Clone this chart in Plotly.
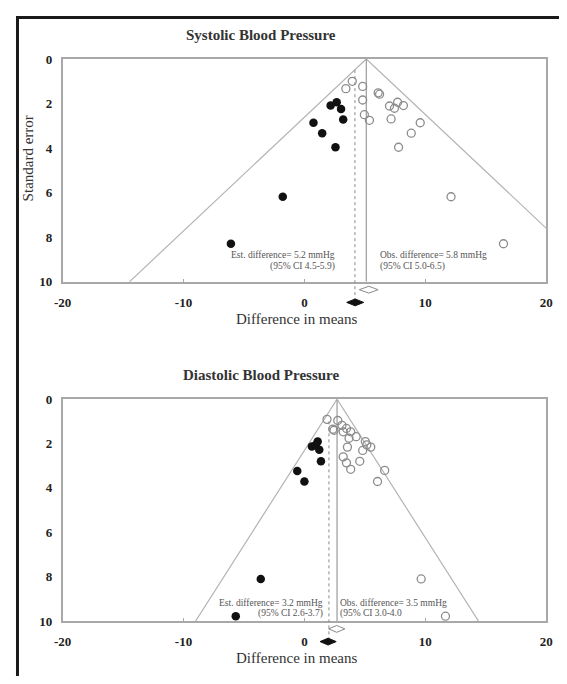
import plotly.graph_objects as go

# page body has an 8px margin; the figure is sized to fit inside the window
PAGE_W, PAGE_H = 567, 684
OFF = 8
W, H = PAGE_W - 2 * OFF, PAGE_H - 2 * OFF

# ---------------- data ----------------
x_ticks = [-20, -10, 0, 10, 20]
y_ticks = [0, 2, 4, 6, 8, 10]

# Systolic: observed studies (open) and imputed studies (filled)
sbp_obs_x = [3.96, 3.43, 4.82, 4.82, 6.10, 6.22, 7.04, 7.45, 7.71, 8.19, 7.17, 4.96, 5.38, 9.58, 8.84, 7.79, 12.13, 16.47]
sbp_obs_se = [1.00, 1.33, 1.23, 1.84, 1.52, 1.58, 2.11, 2.21, 1.94, 2.09, 2.69, 2.50, 2.75, 2.86, 3.33, 3.96, 6.18, 8.29]
sbp_imp_x = [2.67, 2.17, 3.03, 3.21, 0.75, 1.47, 2.57, -1.79, -6.08]
sbp_imp_se = [1.94, 2.09, 2.24, 2.72, 2.86, 3.33, 3.96, 6.18, 8.29]
sbp_obs_mean = 5.12
sbp_adj_mean = 4.18
sbp_funnel_k = 1.96
sbp_obs_ci = [4.55, 6.1]
sbp_adj_ci = [3.5, 4.9]

# Diastolic
dbp_obs_x = [1.87, 2.76, 2.35, 2.45, 3.11, 3.48, 3.83, 3.21, 4.28, 3.69, 5.04, 5.16, 5.49, 4.82, 3.56, 3.21, 3.48, 3.83, 4.58, 6.64, 6.05, 9.66, 11.67]
dbp_obs_se = [0.91, 0.96, 1.35, 1.40, 1.18, 1.32, 1.47, 1.47, 1.69, 1.76, 1.91, 2.06, 2.16, 2.31, 2.16, 2.60, 2.87, 3.16, 2.80, 3.21, 3.71, 8.10, 9.78]
dbp_imp_x = [1.10, 0.62, 0.94, 1.23, 1.37, -0.59, 0.00, -3.61, -5.68]
dbp_imp_se = [1.91, 2.13, 2.06, 2.28, 2.80, 3.24, 3.71, 8.10, 9.78]
dbp_obs_mean = 2.70
dbp_adj_mean = 2.03
dbp_funnel_k = 1.17
dbp_obs_ci = [2.0, 3.35]
dbp_adj_ci = [1.29, 2.63]

titles = ["Systolic Blood Pressure", "Diastolic Blood Pressure"]
est_text = [["Est. difference= 5.2 mmHg", "(95% CI 4.5-5.9)"],
            ["Est. difference= 3.2 mmHg", "(95% CI 2.6-3.7)"]]
obs_text = [["Obs. difference= 5.8 mmHg", "(95% CI 5.0-6.5)"],
            ["Obs. difference= 3.5 mmHg", "(95% CI 3.0-4.0"]]

# ---------------- layout helpers (args are page pixels) ----------------
def fx(p):
    return (p - OFF) / W

def fy(p):
    return 1 - (p - OFF) / H

SERIF = "Liberation Serif"
GRAY = "#a8a8a8"

panels = [
    dict(xa="x", ya="y", top=53, bot=281, obs_x=sbp_obs_x, obs_se=sbp_obs_se,
         imp_x=sbp_imp_x, imp_se=sbp_imp_se, m=sbp_obs_mean, adj=sbp_adj_mean,
         k=sbp_funnel_k, oci=sbp_obs_ci, aci=sbp_adj_ci, dot_top=0.5,
         est_x=2.73, obs_tx=6.1, txt_y=8.81, txt_dy=0.48),
    dict(xa="x2", ya="y2", top=401, bot=628, obs_x=dbp_obs_x, obs_se=dbp_obs_se,
         imp_x=dbp_imp_x, imp_se=dbp_imp_se, m=dbp_obs_mean, adj=dbp_adj_mean,
         k=dbp_funnel_k, oci=dbp_obs_ci, aci=dbp_adj_ci, dot_top=1.0,
         est_x=1.74, obs_tx=2.81, txt_y=9.2, txt_dy=0.48),
]

fig = go.Figure()
shapes = []
annotations = []


def diamond(ci, yc, h=3.5):
    c = (ci[0] + ci[1]) / 2
    return (f"M {ci[0]},{fy(yc)} L {c},{fy(yc - h)} L {ci[1]},{fy(yc)} "
            f"L {c},{fy(yc + h)} Z")


for i, p in enumerate(panels):
    se_max = 10
    # funnel
    fig.add_trace(go.Scatter(
        x=[p["m"] - p["k"] * se_max, p["m"], p["m"] + p["k"] * se_max],
        y=[se_max, 0, se_max], mode="lines",
        line=dict(color="#b4b4b4", width=1.2), xaxis=p["xa"], yaxis=p["ya"],
        hoverinfo="skip", showlegend=False))
    # observed mean line
    fig.add_trace(go.Scatter(
        x=[p["m"], p["m"]], y=[0, se_max], mode="lines",
        line=dict(color="#9a9a9a", width=1.2), xaxis=p["xa"], yaxis=p["ya"],
        hoverinfo="skip", showlegend=False))
    # observed studies
    fig.add_trace(go.Scatter(
        x=p["obs_x"], y=p["obs_se"], mode="markers",
        marker=dict(symbol="circle-open", size=8, color="#8c8c8c", line=dict(width=1.3)),
        xaxis=p["xa"], yaxis=p["ya"], showlegend=False))
    # imputed studies
    fig.add_trace(go.Scatter(
        x=p["imp_x"], y=p["imp_se"], mode="markers",
        marker=dict(symbol="circle", size=8.5, color="#111111"),
        xaxis=p["xa"], yaxis=p["ya"], showlegend=False))

    # adjusted mean dotted line (extends below axis to filled diamond)
    y_dot_top = p["top"] + p["dot_top"] * (p["bot"] - p["top"]) / 10
    y_od = p["bot"] + 8
    y_ad = p["bot"] + 21
    shapes.append(dict(type="line", xref=p["xa"], yref="paper",
                       x0=p["adj"], x1=p["adj"], y0=fy(y_dot_top), y1=fy(y_ad),
                       line=dict(color="#8a8a8a", width=1, dash="dot")))
    shapes.append(dict(type="path", xref=p["xa"], yref="paper",
                       path=diamond(p["oci"], y_od), fillcolor="white",
                       line=dict(color="#8a8a8a", width=1)))
    shapes.append(dict(type="path", xref=p["xa"], yref="paper",
                       path=diamond(p["aci"], y_ad), fillcolor="#111111",
                       line=dict(color="#111111", width=1)))

    for j, t in enumerate(est_text[i]):
        annotations.append(dict(x=p["est_x"], y=p["txt_y"] + j * p["txt_dy"],
                                xref=p["xa"], yref=p["ya"], text=t, showarrow=False,
                                xanchor="right", yanchor="middle",
                                font=dict(family=SERIF, size=9.5, color="#555")))
    for j, t in enumerate(obs_text[i]):
        annotations.append(dict(x=p["obs_tx"], y=p["txt_y"] + j * p["txt_dy"],
                                xref=p["xa"], yref=p["ya"], text=t, showarrow=False,
                                xanchor="left", yanchor="middle",
                                font=dict(family=SERIF, size=9.5, color="#555")))
    annotations.append(dict(x=fx(259), y=fy(p["top"] - 25), xref="paper", yref="paper",
                            text="<b>" + titles[i] + "</b>", showarrow=False,
                            xanchor="center", yanchor="middle",
                            font=dict(family=SERIF, size=15, color="#333")))
    annotations.append(dict(x=fx(296), y=fy(p["bot"] + 38), xref="paper", yref="paper",
                            text="Difference in means", showarrow=False,
                            xanchor="center", yanchor="middle",
                            font=dict(family=SERIF, size=15, color="#333")))

annotations.append(dict(x=fx(19), y=fy(155), xref="paper", yref="paper",
                        text="Standard error", showarrow=False, textangle=-90,
                        xanchor="center", yanchor="middle",
                        font=dict(family=SERIF, size=15, color="#333")))

# outer black frame (right and bottom edges fall outside the picture)
shapes.append(dict(type="rect", xref="paper", yref="paper",
                   x0=fx(8.5), x1=fx(PAGE_W + 20), y0=fy(PAGE_H + 20), y1=fy(10.5),
                   line=dict(color="#1a1a1a", width=3)))

xcommon = dict(range=[-20, 20], tickvals=x_ticks, ticktext=[str(v) for v in x_ticks],
               showline=True, mirror=True, linecolor=GRAY, linewidth=1.5,
               showgrid=False, zeroline=False, ticks="inside", ticklen=3,
               tickcolor=GRAY, ticklabelstandoff=8, ticklabeloverflow="allow",
               tickfont=dict(family=SERIF, size=13, color="#222", weight="bold"),
               domain=[fx(55), fx(553)])
ycommon = dict(range=[10, 0], tickvals=y_ticks, ticktext=[str(v) for v in y_ticks],
               showline=True, mirror=True, linecolor=GRAY, linewidth=1.5,
               showgrid=False, zeroline=False, ticks="", ticklabelstandoff=6,
               ticklabeloverflow="allow",
               tickfont=dict(family=SERIF, size=13, color="#222", weight="bold"))

fig.update_layout(
    width=W, height=H, margin=dict(l=0, r=0, t=0, b=0),
    paper_bgcolor="white", plot_bgcolor="white",
    xaxis=dict(**xcommon, anchor="y"),
    yaxis=dict(**ycommon, anchor="x", domain=[fy(panels[0]["bot"]), fy(panels[0]["top"])]),
    xaxis2=dict(**xcommon, anchor="y2"),
    yaxis2=dict(**ycommon, anchor="x2", domain=[fy(panels[1]["bot"]), fy(panels[1]["top"])]),
    shapes=shapes, annotations=annotations, showlegend=False,
)

fig.write_html("out.html")
